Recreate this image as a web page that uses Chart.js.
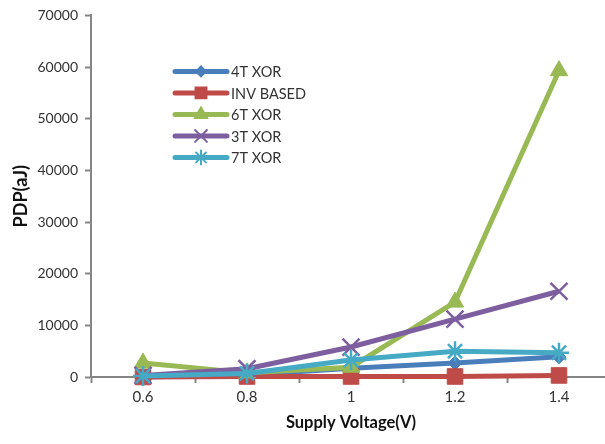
<!DOCTYPE html>
<html>
<head>
<meta charset="utf-8">
<script src="https://cdn.jsdelivr.net/npm/chart.js@4.4.1/dist/chart.umd.min.js"></script>
<style>
  html, body { margin: 0; padding: 0; background: #fff; overflow: hidden; }
  #wrap { width: 605px; height: 444px; overflow: hidden; }
  #pdpChart { width: 611px; height: 444px; display: block; }
</style>
</head>
<body>
<div id="wrap"><canvas id="pdpChart" width="611" height="444"></canvas></div>
<script>
const voltages = ['0.6', '0.8', '1', '1.2', '1.4'];
const xor4T = [0, 400, 1700, 2700, 3900];
const invBased = [0, 100, 100, 100, 300];
const xor6T = [2700, 800, 1900, 14500, 59300];
const xor3T = [300, 1600, 5800, 11200, 16600];
const xor7T = [200, 700, 3300, 5000, 4700];
const yTicks = [0, 10000, 20000, 30000, 40000, 50000, 60000, 70000];

const seriesNames = ['4T XOR', 'INV BASED', '6T XOR', '3T XOR', '7T XOR'];
const seriesColors = ['#4a7ebb', '#be4b48', '#98b954', '#7d5fa0', '#46aac5'];
const seriesMarkers = ['rectRot', 'rect', 'triangle', 'crossRot', 'star'];
const markerSizes = [7, 11, 10, 12, 10];
const seriesValues = [xor4T, invBased, xor6T, xor3T, xor7T];

const axisGray = '#868686';
const textColor = '#333333';
const fontFamily = 'Lato, "Open Sans", sans-serif';

// legend drawn inside plot area like the Excel original
const insideLegend = {
  id: 'insideLegend',
  afterDatasetsDraw(chart) {
    const ctx = chart.ctx;
    const left = chart.chartArea.left + 84;
    let y = chart.chartArea.top + 56;
    ctx.save();
    chart.data.datasets.forEach(function (ds) {
      ctx.strokeStyle = ds.borderColor;
      ctx.lineWidth = 5;
      ctx.lineCap = 'round';
      ctx.beginPath();
      ctx.moveTo(left, y);
      ctx.lineTo(left + 52, y);
      ctx.stroke();
      ctx.fillStyle = ds.borderColor;
      ctx.lineWidth = 2;
      Chart.helpers.drawPoint(ctx, {
        pointStyle: ds.pointStyle,
        radius: ds.pointRadius * 0.7,
        borderWidth: 2
      }, left + 26, y);
      ctx.fillStyle = textColor;
      ctx.font = '14.5px ' + fontFamily;
      ctx.textBaseline = 'middle';
      ctx.textAlign = 'left';
      ctx.fillText(ds.label, left + 56, y + 1);
      y += 21.5;
    });
    ctx.restore();
  }
};

const datasets = seriesNames.map(function (name, i) {
  return {
    label: name,
    data: seriesValues[i],
    borderColor: seriesColors[i],
    backgroundColor: seriesColors[i],
    borderWidth: 5,
    pointStyle: seriesMarkers[i],
    pointRadius: markerSizes[i],
    pointBorderWidth: (seriesMarkers[i] === 'crossRot' || seriesMarkers[i] === 'star') ? 2.5 : 1,
    tension: 0,
    clip: false,
    order: seriesNames.length - i
  };
});

new Chart(document.getElementById('pdpChart'), {
  type: 'line',
  data: { labels: voltages, datasets: datasets },
  plugins: [insideLegend],
  options: {
    responsive: false,
    animation: false,
    events: [],
    // canvas is a bit wider than the page so the plot runs to the edge
    layout: { autoPadding: false, padding: { top: 15, right: 0, left: 0, bottom: 0 } },
    plugins: {
      legend: { display: false },
      tooltip: { enabled: false }
    },
    scales: {
      x: {
        offset: true,
        grid: {
          offset: true,
          drawOnChartArea: false,
          tickLength: 6,
          tickColor: axisGray,
          tickWidth: 2
        },
        border: { color: axisGray, width: 2 },
        ticks: { color: textColor, font: { size: 15, family: fontFamily }, padding: 5 },
        title: {
          display: true,
          text: 'Supply Voltage(V)',
          color: '#111',
          font: { size: 16.5, weight: 'bold', family: fontFamily },
          padding: { top: 4, bottom: 11 }
        },
        afterFit: function (scale) { scale.height = 67; }
      },
      y: {
        min: 0,
        max: 70000,
        afterBuildTicks: function (scale) {
          scale.ticks = yTicks.map(function (v) { return { value: v }; });
        },
        grid: {
          drawOnChartArea: false,
          tickLength: 6,
          tickColor: axisGray,
          tickWidth: 2
        },
        border: { color: axisGray, width: 2 },
        ticks: {
          color: textColor,
          font: { size: 14, family: fontFamily },
          padding: 7,
          callback: function (value) { return String(value); }
        },
        title: {
          display: true,
          text: 'PDP(aJ)',
          color: '#111',
          font: { size: 18, weight: 'bold', family: fontFamily },
          padding: { top: 10, bottom: 6 }
        },
        afterFit: function (scale) { scale.width = 91; }
      }
    }
  }
});
</script>
</body>
</html>
